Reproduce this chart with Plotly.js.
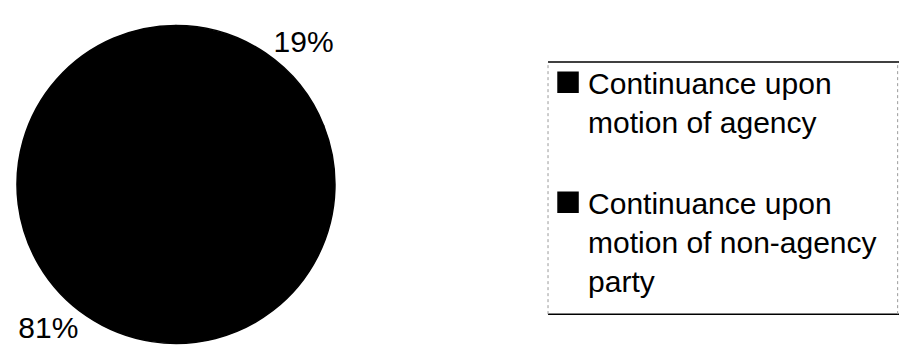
<!DOCTYPE html>
<html>
<head>
<meta charset="utf-8">
<script src="https://cdn.plot.ly/plotly-3.0.1.min.js"></script>
<style>
  html, body { margin: 0; padding: 0; background: #ffffff; }
  #chart { width: 899px; height: 351px; }
</style>
</head>
<body>
<div id="chart"></div>
<script>
// Data
const categories = [
  "Continuance upon<br>motion of agency<br> ",
  "Continuance upon<br>motion of non-agency<br>party"
];
const shares = [19, 81];
const sliceColors = ["#000000", "#000000"];

const trace = {
  type: "pie",
  labels: categories,
  values: shares,
  sort: false,
  direction: "clockwise",
  rotation: 0,
  marker: { colors: sliceColors, line: { color: "#000000", width: 1.5 } },
  textposition: "outside",
  texttemplate: "%{percent:.0%}",
  textfont: { family: "Liberation Sans, Arial, sans-serif", size: 30, color: "#000000" },
  outsidetextfont: { family: "Liberation Sans, Arial, sans-serif", size: 30, color: "#000000" },
  hoverinfo: "none",
  domain: { x: [0.0189, 0.3726], y: [0.0214, 0.9274] },
  showlegend: true
};

const layout = {
  width: 899,
  height: 351,
  margin: { l: 0, r: 0, t: 0, b: 0 },
  paper_bgcolor: "#ffffff",
  plot_bgcolor: "#ffffff",
  font: { family: "Liberation Sans, Arial, sans-serif", size: 30, color: "#000000" },
  showlegend: true,
  legend: {
    x: 0.6096, xanchor: "left",
    y: 0.84, yanchor: "top",
    bgcolor: "rgba(0,0,0,0)",
    borderwidth: 0,
    valign: "top",
    traceorder: "normal",
    font: { family: "Liberation Sans, Arial, sans-serif", size: 30, color: "#000000" }
  },
  shapes: [
    { type: "line", xref: "paper", yref: "paper", x0: 0.6096, x1: 1.0, y0: 0.8234, y1: 0.8234,
      line: { color: "#000000", width: 1.5 } },
    { type: "line", xref: "paper", yref: "paper", x0: 0.6096, x1: 1.0, y0: 0.105, y1: 0.105,
      line: { color: "#000000", width: 1.5 } },
    { type: "line", xref: "paper", yref: "paper", x0: 0.6096, x1: 0.6096, y0: 0.105, y1: 0.8234,
      line: { color: "#9a9a9a", width: 1, dash: "dot" } },
    { type: "line", xref: "paper", yref: "paper", x0: 0.9985, x1: 0.9985, y0: 0.105, y1: 0.8234,
      line: { color: "#9a9a9a", width: 1, dash: "dot" } }
  ]
};

Plotly.newPlot("chart", [trace], layout, { staticPlot: true, displayModeBar: false }).then(function (gd) {
  // enlarge the square legend swatches to match the reference
  document.querySelectorAll("#chart .legendpoints path").forEach(function (p) {
    p.setAttribute("d", "M10,10H-10V-10H10Z");
  });
});
</script>
</body>
</html>
